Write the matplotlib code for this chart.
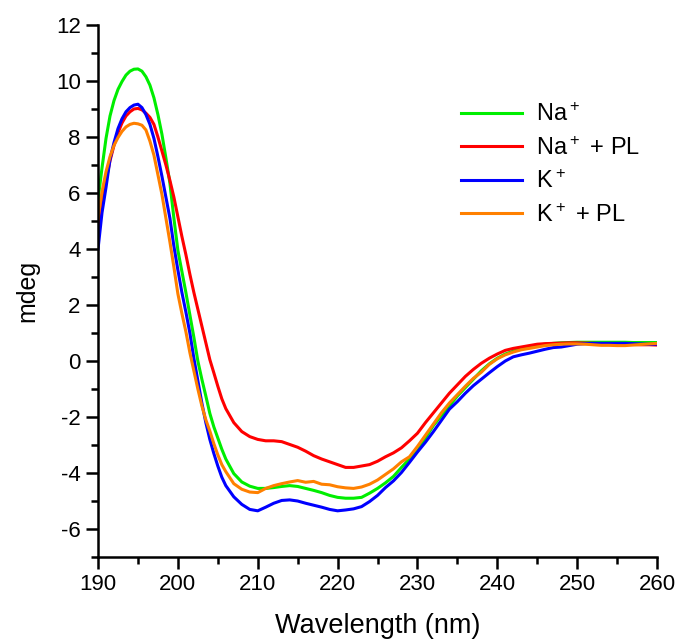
import matplotlib
matplotlib.use("Agg")
import matplotlib.pyplot as plt
import numpy as np
from matplotlib.ticker import MultipleLocator

# ---- CD spectra (mdeg vs nm) ----
# 0.5 nm steps over the steep 190-206 part, 1 nm steps after that
wavelength = np.concatenate([np.arange(190, 206.5, 0.5), np.arange(207, 261, 1)])

na = [5.75, 6.9, 7.95, 8.75, 9.3, 9.7, 9.98, 10.21, 10.35, 10.42,
      10.43, 10.35, 10.15, 9.85, 9.4, 8.8, 8.1, 7.25, 6.35, 5.1,
      3.95, 3.2, 2.45, 1.65, 0.85, 0.0, -0.65, -1.25, -1.87, -2.35,
      -2.75, -3.15, -3.5,
      -4.02, -4.32, -4.47, -4.55, -4.55, -4.52, -4.48, -4.45, -4.48, -4.55,
      -4.62, -4.7, -4.8, -4.87, -4.9, -4.9, -4.87, -4.72, -4.55, -4.35,
      -4.12, -3.8, -3.5, -3.22, -2.75, -2.3, -1.95, -1.6, -1.25, -0.95,
      -0.65, -0.35, -0.1, 0.1, 0.25, 0.35, 0.45, 0.52, 0.57, 0.6,
      0.63, 0.65, 0.66, 0.67, 0.67, 0.67, 0.67, 0.67, 0.67, 0.67,
      0.66, 0.66, 0.66, 0.66]

na_pl = [4.5, 5.6, 6.45, 7.15, 7.7, 8.15, 8.5, 8.75, 8.9, 9.0,
         9.02, 8.97, 8.85, 8.7, 8.45, 8.0, 7.5, 7.0, 6.45, 5.85,
         5.15, 4.45, 3.8, 3.1, 2.45, 1.85, 1.25, 0.65, 0.05, -0.42,
         -0.9, -1.35, -1.7,
         -2.2, -2.52, -2.7, -2.8, -2.85, -2.85, -2.88, -2.98, -3.08, -3.22,
         -3.38, -3.5, -3.6, -3.7, -3.8, -3.8, -3.75, -3.7, -3.58, -3.42,
         -3.28, -3.1, -2.85, -2.58, -2.2, -1.85, -1.5, -1.15, -0.85, -0.55,
         -0.3, -0.08, 0.1, 0.25, 0.38, 0.45, 0.5, 0.55, 0.6, 0.62,
         0.63, 0.64, 0.65, 0.65, 0.64, 0.63, 0.62, 0.61, 0.6, 0.6,
         0.59, 0.58, 0.58, 0.57]

k = [4.0, 5.3, 6.2, 7.2, 7.8, 8.3, 8.65, 8.9, 9.05, 9.14,
     9.17, 9.05, 8.8, 8.45, 7.95, 7.3, 6.6, 5.85, 5.1, 4.1,
     3.25, 2.45, 1.75, 1.0, 0.1, -0.7, -1.5, -2.2, -2.8, -3.3,
     -3.75, -4.15, -4.45,
     -4.85, -5.12, -5.3, -5.35, -5.22, -5.08, -4.98, -4.96, -5.0, -5.08,
     -5.15, -5.22, -5.3, -5.35, -5.32, -5.28, -5.2, -5.02, -4.8, -4.52,
     -4.28, -3.98, -3.62, -3.25, -2.9, -2.52, -2.12, -1.72, -1.45, -1.15,
     -0.88, -0.65, -0.42, -0.2, 0.0, 0.15, 0.22, 0.28, 0.35, 0.42,
     0.48, 0.5, 0.55, 0.6, 0.62, 0.63, 0.63, 0.63, 0.63, 0.63,
     0.62, 0.61, 0.6, 0.6]

k_pl = [5.1, 6.05, 6.76, 7.3, 7.7, 7.98, 8.2, 8.36, 8.45, 8.49,
        8.47, 8.42, 8.25, 7.85, 7.35, 6.65, 5.95, 5.1, 4.25, 3.35,
        2.4, 1.7, 1.05, 0.3, -0.35, -1.0, -1.6, -2.1, -2.5, -2.95,
        -3.35, -3.7, -3.95,
        -4.38, -4.58, -4.68, -4.7, -4.55, -4.45, -4.38, -4.32, -4.27, -4.33,
        -4.3, -4.4, -4.42, -4.49, -4.53, -4.55, -4.5, -4.4, -4.25, -4.05,
        -3.85, -3.6, -3.42, -3.05, -2.65, -2.25, -1.85, -1.5, -1.2, -0.9,
        -0.62, -0.4, -0.12, 0.08, 0.22, 0.32, 0.4, 0.45, 0.5, 0.55,
        0.58, 0.6, 0.61, 0.61, 0.6, 0.58, 0.56, 0.56, 0.55, 0.55,
        0.57, 0.59, 0.61, 0.63]

labels = ['Na$^+$', 'Na$^+$ + PL', 'K$^+$', 'K$^+$ + PL']
colors = ['#00ee00', '#ff0000', '#0000ff', '#ff8000']

plt.rcParams['font.family'] = ['Liberation Sans', 'DejaVu Sans']
plt.rcParams['mathtext.default'] = 'regular'
plt.rcParams['axes.unicode_minus'] = False

fig = plt.figure(figsize=(6.77, 6.39), dpi=100)
ax = fig.add_axes([0.1448, 0.1283, 0.8257, 0.8326])
for ys, lab, c in zip([na, na_pl, k, k_pl], labels, colors):
    ax.plot(wavelength, ys, color=c, lw=2.2, label=lab)

ax.set_xlim(190, 260); ax.set_ylim(-7, 12)
ax.xaxis.set_major_locator(MultipleLocator(10)); ax.xaxis.set_minor_locator(MultipleLocator(5))
ax.yaxis.set_major_locator(MultipleLocator(2)); ax.yaxis.set_minor_locator(MultipleLocator(1))
for s in ['top', 'right']:
    ax.spines[s].set_visible(False)
for s in ['left', 'bottom']:
    ax.spines[s].set_linewidth(1.8)
ax.tick_params(which='major', direction='out', length=8.5, width=1.8, labelsize=16, pad=4)
ax.tick_params(which='minor', direction='out', length=5, width=1.8)
ax.set_xlabel('Wavelength (nm)', fontsize=19.5, labelpad=13)
ax.set_ylabel('mdeg', fontsize=18, labelpad=12)
ax.legend(loc='upper left', bbox_to_anchor=(0.612, 0.893), frameon=False, fontsize=17,
          handlelength=2.55, labelspacing=0.45, handletextpad=0.6)
fig.savefig("out.png", dpi=100)
